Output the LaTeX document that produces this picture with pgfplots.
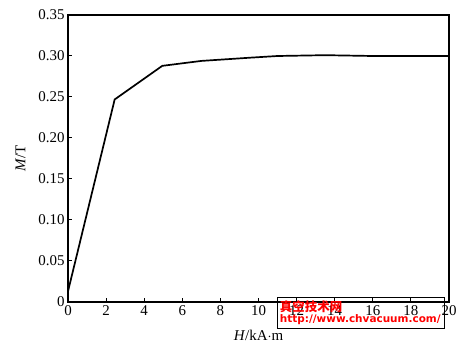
\documentclass[border=0pt]{standalone}
\usepackage{pgfplots}
\pgfplotsset{compat=1.18}
\usepackage{fontspec}
\setmainfont{Liberation Serif}
\newfontfamily\cjk{Noto Sans CJK SC}
\newfontfamily\wm{DejaVu Sans}
\begin{document}
\begin{tikzpicture}
\begin{axis}[
  name=ax,
  scale only axis,
  width=381bp, height=287bp,
  xmin=0, xmax=20, ymin=0, ymax=0.35,
  xtick={0,2,...,20},
  ytick={0,0.05,...,0.35},
  yticklabels={0,0.05,0.10,0.15,0.20,0.25,0.30,0.35},
  tick align=inside,
  xtick pos=bottom, ytick pos=left,
  major tick length=4bp,
  axis line style={line width=1.4bp},
  tick style={line width=1bp, black},
  tick label style={font=\fontsize{15}{17}\selectfont},
  /pgf/number format/assume math mode=true,
  xlabel={\fontsize{15}{17}\selectfont\textit{H}/kA$\cdot$m},
  ylabel={\fontsize{15}{17}\selectfont\textit{M}/T},
  xlabel style={yshift=-8bp},
  ylabel style={yshift=6bp},
  clip=false,
]
\addplot[black, line width=1.7bp] coordinates {
 (0,0.013) (2.45,0.247) (4.95,0.288) (7,0.294) (9.6,0.298) (11,0.300) (13.5,0.301) (16,0.300) (20,0.300)
};
\node[draw=black, line width=0.6bp, fill=none, anchor=north west, minimum width=167bp, minimum height=31bp, inner sep=1.5bp, align=left, text=red, text width=162bp] at (rel axis cs:0.549,0.017)
 {{\cjk\bfseries\fontsize{12.5}{13}\selectfont 真空技术网}\\[-1.5bp]{\wm\bfseries\fontsize{10.5}{12}\selectfont http://www.chvacuum.com/}};
\end{axis}
\path ([xshift=-68bp,yshift=-47bp]ax.south west) rectangle ([xshift=16bp,yshift=15bp]ax.north east);
\end{tikzpicture}
\end{document}
